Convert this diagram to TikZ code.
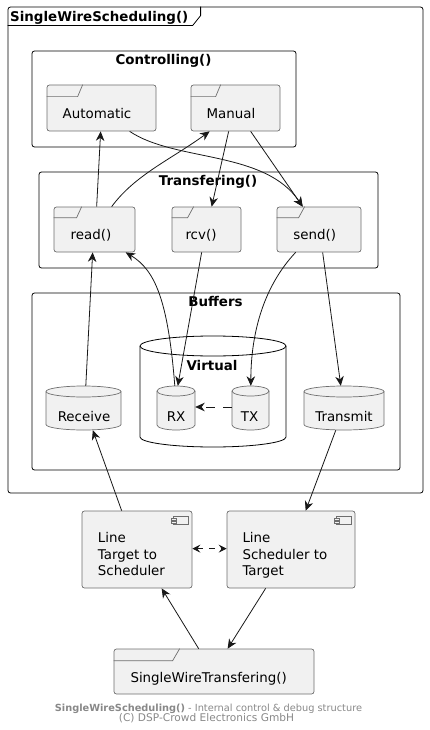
\documentclass[tikz,border=0pt]{standalone}
\usepackage{fontspec}
\setmainfont{DejaVu Sans}
\usetikzlibrary{arrows.meta,fit}
\definecolor{elemfill}{HTML}{F1F1F1}
\definecolor{elemline}{HTML}{6E6E6E}
\definecolor{arr}{HTML}{181818}
\definecolor{foot}{HTML}{888888}
\newcommand\cylsh[6]{%
  \pgfmathsetmacro\cylw{(#4-#2)/2}%
  \path[#1] (#2,#3+#6) -- (#2,#5-#6) arc[start angle=180,end angle=360,x radius=\cylw pt,y radius=#6 pt]
     -- (#4,#3+#6) arc[start angle=0,end angle=180,x radius=\cylw pt,y radius=#6 pt] -- cycle;
  \path[#1,fill=none] (#2,#3+#6) arc[start angle=180,end angle=360,x radius=\cylw pt,y radius=#6 pt];
}
\begin{document}
\begin{tikzpicture}[x=1pt,y=-1pt,
  grp/.style={draw=black, line width=0.8pt, rounded corners=2.5pt, inner sep=0pt},
  elem/.style={draw=elemline, fill=elemfill, line width=0.7pt, rounded corners=2.5pt, inner sep=0pt},
  hid/.style={draw=none, inner sep=0pt},
  tabst/.style={draw=elemline, line width=0.7pt},
  cylst/.style={draw=elemline, fill=elemfill, line width=0.7pt},
  vcylst/.style={draw=black, fill=white, line width=0.8pt},
  txt/.style={font=\fontsize{13.4}{16}\selectfont, inner sep=0pt, anchor=base},
  ttl/.style={font=\bfseries\fontsize{13.4}{16}\selectfont, inner sep=0pt, anchor=base},
  ltxt/.style={font=\fontsize{13.4}{16}\selectfont, inner sep=0pt, anchor=base west},
  ftxt/.style={font=\fontsize{9.8}{12}\selectfont, text=foot, inner sep=0pt, anchor=base},
  con/.style={draw=arr, line width=0.8pt, -{Stealth[length=9.5pt,width=8.5pt,inset=3pt]}},
  dcon/.style={con, dash pattern=on 9pt off 8pt},
  bcon/.style={draw=arr, line width=0.8pt, {Stealth[length=8pt,width=8pt,inset=3pt]}-{Stealth[length=8pt,width=8pt,inset=3pt]}, dash pattern=on 6pt off 6pt}
]
\useasboundingbox (0,0) rectangle (429,730);

% outer frame
\node[grp, fit={(8,7) (423,493)}] (main) {};
\draw[black, line width=0.8pt] ([yshift=-19pt]main.north west) -- ++(185,0) -- ++(8,-10) -- ([xshift=193pt]main.north west);
\node[ttl, anchor=base west] (main-t) at (10,21.5) {SingleWireScheduling()};

% Controlling
\node[grp, fit={(32,51) (296,147)}] (ctrl) {};
\node[ttl] (ctrl-t) at (163.5,64.5) {Controlling()};
\node[elem, fit={(47,85) (156,131)}] (auto) {};
\draw[tabst] ([yshift=-12pt]auto.north west) -- ++(31,0) -- ([xshift=36pt]auto.north west);
\node[txt] (auto-t) at (97,119) {Automatic};
\node[elem, fit={(191,85) (280,131)}] (manual) {};
\draw[tabst] ([yshift=-12pt]manual.north west) -- ++(25,0) -- ([xshift=30pt]manual.north west);
\node[txt] (manual-t) at (231,119) {Manual};

% Transfering
\node[grp, fit={(39,172) (378,268)}] (trans) {};
\node[ttl] (trans-t) at (208,185.5) {Transfering()};
\node[elem, fit={(54,207) (135,252)}] (read) {};
\draw[tabst] ([yshift=-11pt]read.north west) -- ++(23,0) -- ([xshift=28pt]read.north west);
\node[txt] (read-t) at (91,239) {read()};
\node[elem, fit={(172,207) (241,252)}] (rcv) {};
\draw[tabst] ([yshift=-11pt]rcv.north west) -- ++(16,0) -- ([xshift=22pt]rcv.north west);
\node[txt] (rcv-t) at (201,239) {rcv()};
\node[elem, fit={(277,207) (361,252)}] (send) {};
\draw[tabst] ([yshift=-11pt]send.north west) -- ++(22,0) -- ([xshift=28pt]send.north west);
\node[txt] (send-t) at (314.7,239) {send()};

% Buffers
\node[grp, fit={(32,293) (400,470)}] (buf) {};
\node[ttl] (buf-t) at (215.5,306.5) {Buffers};
\cylsh{vcylst}{140}{336}{286}{447}{10}
\node[hid, fit={(140,336) (286,447)}] (virt) {};
\node[ttl] (virt-t) at (212,370) {Virtual};
\cylsh{cylst}{46}{386}{121}{430}{5.5}
\node[hid, fit={(46,386) (121,430)}] (recv) {};
\node[txt] (recv-t) at (84,421.5) {Receive};
\cylsh{cylst}{157}{386}{195}{430}{5}
\node[hid, fit={(157,386) (195,430)}] (rx) {};
\node[txt] (rx-t) at (176,421.5) {RX};
\cylsh{cylst}{232}{386}{269}{430}{5}
\node[hid, fit={(232,386) (269,430)}] (tx) {};
\node[txt] (tx-t) at (249.5,421.5) {TX};
\cylsh{cylst}{304}{386}{384}{430}{5.5}
\node[hid, fit={(304,386) (384,430)}] (xmit) {};
\node[txt] (xmit-t) at (344,421.5) {Transmit};

% Components
\node[elem, fit={(82,511) (192,588)}] (lts) {};
\node[elem, fit={(227,511) (355,588)}] (lst) {};
\foreach \c in {lts,lst}{
  \draw[tabst, fill=elemfill] ([xshift=-19.5pt,yshift=-6pt]\c.north east) rectangle ([xshift=-4.5pt,yshift=-13.5pt]\c.north east);
  \draw[tabst, fill=elemfill, line width=0.6pt] ([xshift=-21pt,yshift=-8pt]\c.north east) rectangle ([xshift=-16.5pt,yshift=-10pt]\c.north east);
  \draw[tabst, fill=elemfill, line width=0.6pt] ([xshift=-21pt,yshift=-11pt]\c.north east) rectangle ([xshift=-16.5pt,yshift=-13pt]\c.north east);
}
\node[ltxt] (lts-t1) at (97.7,542.5) {Line};
\node[ltxt] (lts-t2) at (97.7,559) {Target to};
\node[ltxt] (lts-t3) at (97.7,575.5) {Scheduler};
\node[ltxt] (lst-t1) at (242.3,542.5) {Line};
\node[ltxt] (lst-t2) at (242.3,559) {Scheduler to};
\node[ltxt] (lst-t3) at (242.3,575.5) {Target};

\node[elem, fit={(114,649) (314,694)}] (swt) {};
\draw[tabst] ([yshift=-12pt]swt.north west) -- ++(59,0) -- ([xshift=66pt]swt.north west);
\node[txt] (swt-t) at (208.7,682.7) {SingleWireTransfering()};

% footer
\node[ftxt] (foot1) at (208.5,711.5) {{\bfseries SingleWireScheduling()} - Internal control \& debug structure};
\node[ftxt, font=\fontsize{10.6}{12}\selectfont] (foot2) at (206.5,721) {(C) DSP-Crowd Electronics GmbH};

% connectors
\draw[con] ([xshift=43pt]read.north west) -- ([xshift=54pt]auto.south west);
\draw[con] ([xshift=58pt]read.north west) .. controls (135,175) and (170,160) .. ([xshift=19pt]manual.south west);
\draw[con] ([xshift=83pt]auto.south west) .. controls (175,162) and (265,150) .. ([xshift=26pt]send.north west);
\draw[con] ([xshift=38pt]manual.south west) -- ([xshift=40pt]rcv.north west);
\draw[con] ([xshift=60pt]manual.south west) -- ([xshift=26pt]send.north west);
\draw[con] ([xshift=40pt]recv.north west) -- ([xshift=39pt]read.south west);
\draw[con] ([xshift=18pt]rx.north west) .. controls (168,300) and (155,270) .. ([xshift=72pt]read.south west);
\draw[con] ([xshift=30pt]rcv.south west) -- ([xshift=21pt]rx.north west);
\draw[con] ([xshift=19pt]send.south west) .. controls (265,285) and (251,330) .. ([xshift=19pt]tx.north west);
\draw[con] ([xshift=46pt]send.south west) -- ([xshift=37pt]xmit.north west);
\draw[dcon] ([yshift=1pt]tx.west) -- ([yshift=1pt]rx.east);
\draw[con] ([xshift=40pt]lts.north west) -- ([xshift=47pt]recv.south west);
\draw[con] ([xshift=32pt]xmit.south west) -- ([xshift=79pt]lst.north west);
\draw[bcon] ([yshift=-38pt]lts.north east) -- ([yshift=-38pt]lst.north west);
\draw[con] ([xshift=85pt]swt.north west) -- ([xshift=80pt]lts.south west);
\draw[con] ([xshift=39pt]lst.south west) -- ([xshift=114pt]swt.north west);
\end{tikzpicture}
\end{document}
